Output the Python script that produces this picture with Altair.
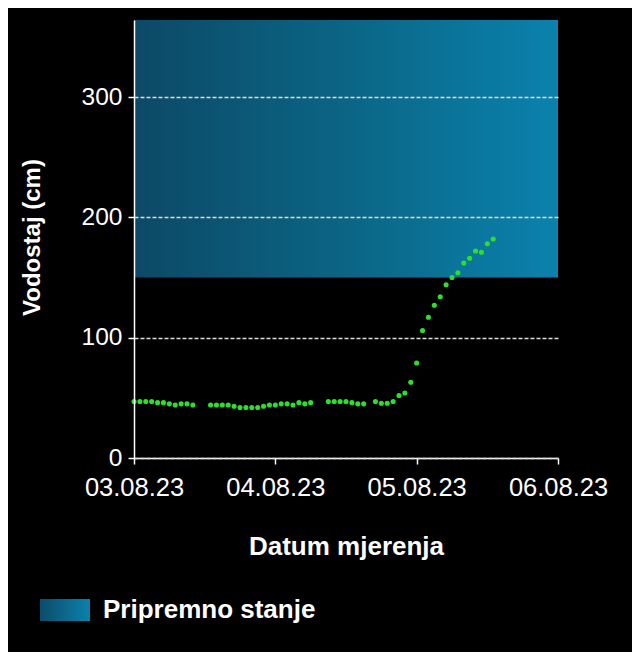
import altair as alt
import pandas as pd

# Measurement times (hours after 03.08.23 00:00) and water levels (cm)
hours = [0, 1, 2, 3, 4, 5, 6, 7, 8, 9, 10,
         13, 14, 15, 16, 17, 18, 19, 20, 21, 22, 23, 24, 25, 26, 27, 28, 29, 30,
         33, 34, 35, 36, 37, 38, 39,
         41, 42, 43, 44, 45, 46, 47, 48, 49, 50, 51, 52, 53, 54, 55, 56, 57, 58, 59, 60, 61]
levels = [47, 47, 47, 47, 46, 46, 45, 44, 45, 45, 44,
          44, 44, 44, 44, 43, 42, 42, 42, 42, 43, 44, 44, 45, 45, 44, 46, 45, 46,
          47, 47, 47, 47, 46, 45, 45,
          47, 45.5, 45.5, 47, 52, 54, 63, 79, 106, 117, 127, 134, 144, 150, 154, 162, 166, 172, 171, 178, 182]

band_label = ["Pripremno stanje"]
band_low = [150]
band_high = [364]
x_ticks = ["2023-08-03", "2023-08-04", "2023-08-05", "2023-08-06"]
y_ticks = [0, 100, 200, 300]

start = pd.Timestamp("2023-08-03")
points = pd.DataFrame({
    "t": [start + pd.Timedelta(hours=h) for h in hours],
    "v": levels,
})
band = pd.DataFrame({
    "label": band_label,
    "t0": [pd.Timestamp(x_ticks[0])],
    "t1": [pd.Timestamp(x_ticks[-1])],
    "lo": band_low,
    "hi": band_high,
})

def dt(s):
    d = pd.Timestamp(s)
    return alt.DateTime(year=d.year, month=d.month, date=d.day)

xscale = alt.Scale(domain=[dt(x_ticks[0]), dt(x_ticks[-1])])
yscale = alt.Scale(domain=[0, band_high[0]], nice=False)

grad = alt.LinearGradient(
    gradient="linear",
    stops=[alt.GradientStop(color="#0c4966", offset=0),
           alt.GradientStop(color="#0b6585", offset=0.5),
           alt.GradientStop(color="#0a82ad", offset=1)],
    x1=0, x2=1, y1=0, y2=0,
)

xaxis = alt.Axis(
    values=[dt(s) for s in x_ticks], format="%d.%m.%y", title="Datum mjerenja",
    grid=False, labelFontSize=25.5, labelPadding=11, tickSize=6,
    labelAlign="center", labelFlush=False, labelOverlap=False,
    titleFontSize=26, titleFontWeight="bold", titleX=212, titleY=88,
    titleBaseline="middle",
)
yaxis = alt.Axis(
    values=y_ticks, title="Vodostaj (cm)", grid=True,
    gridDash=[4, 2], gridColor="#dddddd", gridWidth=1.5,
    labelFontSize=24.5, labelPadding=6, tickSize=6,
    titleFontSize=24, titleFontWeight="bold", titleX=-102, titleY=217,
    titleBaseline="middle", titleAlign="center", zindex=1,
)

band_layer = alt.Chart(band).mark_rect(fill=grad).encode(
    x=alt.X("t0:T", scale=xscale, axis=xaxis),
    x2="t1:T",
    y=alt.Y("lo:Q", scale=yscale, axis=yaxis),
    y2="hi:Q",
)

point_layer = alt.Chart(points).mark_circle(size=26, color="#2be02b", opacity=1).encode(
    x=alt.X("t:T", scale=xscale),
    y=alt.Y("v:Q", scale=yscale),
)

legend_grad = alt.LinearGradient(
    gradient="linear",
    stops=[alt.GradientStop(color="#0d4c6a", offset=0),
           alt.GradientStop(color="#0a82ad", offset=1)],
    x1=0, x2=1, y1=0, y2=0,
)
legend_swatch = alt.Chart(band).mark_rect(fill=legend_grad).encode(
    x=alt.value(-94), x2=alt.value(-44), y=alt.value(579), y2=alt.value(601),
)
legend_text = alt.Chart(band).mark_text(
    align="left", baseline="middle", fontSize=26, fontWeight="bold", color="white",
    font="Liberation Sans",
).encode(
    x=alt.value(-31), y=alt.value(590), text="label:N",
)

chart = alt.layer(band_layer, point_layer, legend_swatch, legend_text).properties(
    width=424, height=438,
    autosize=alt.AutoSizeParams(type="none"),
    padding={"left": 126, "top": 12, "right": 74, "bottom": 194},
    background="black",
).configure_view(stroke=None).configure_axis(
    domainColor="white", tickColor="white", labelColor="white", titleColor="white",
    labelFont="Liberation Sans", titleFont="Liberation Sans", domainWidth=1.5, tickWidth=1.5,
)

chart.save("out.html", embed_options={"renderer": "svg", "actions": False})
